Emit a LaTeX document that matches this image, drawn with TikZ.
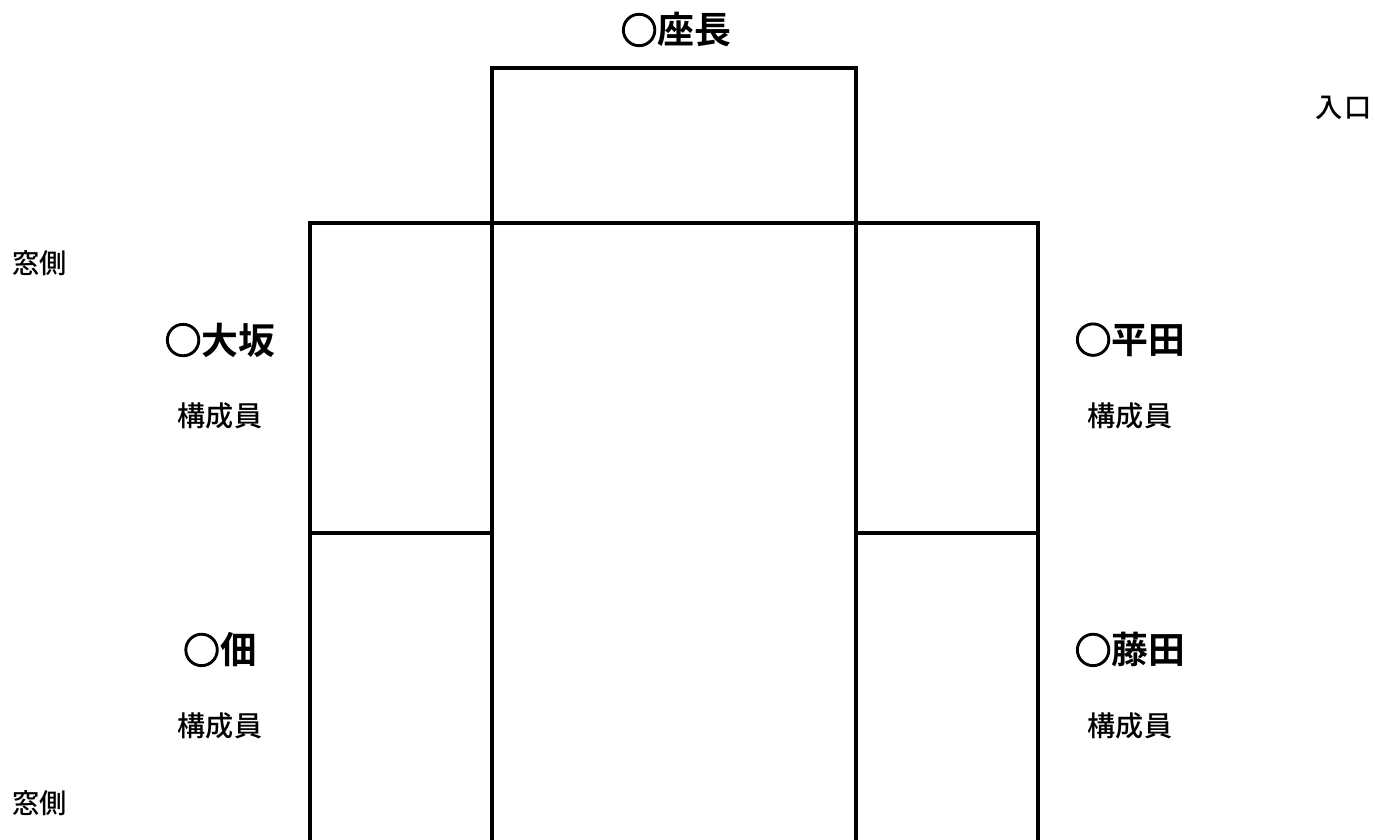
\documentclass[tikz,border=0pt]{standalone}
\usepackage{fontspec}
\usepackage{tikz}
\newfontfamily\cjk{Noto Sans CJK JP Medium}[BoldFont={Noto Sans CJK JP Bold}]
\newfontfamily\circfont{Noto Sans CJK JP Bold}[FakeBold=3]

\begin{document}
\begin{tikzpicture}[
			tbl/.style={draw, line width=2pt},
			seatname/.style={font=\cjk\bfseries\fontsize{21}{25}\selectfont, inner sep=0pt},
			role/.style={font=\cjk\fontsize{16}{19}\selectfont, inner sep=0pt},
			roomlbl/.style={font=\cjk\fontsize{15.5}{18}\selectfont, inner sep=0pt}
			]
			\useasboundingbox (0,0) rectangle (27.5,16.8);
			% tables
			\draw[tbl] (9.84,12.34) rectangle (17.12,15.44);
			\draw[tbl] (9.84,-0.2) rectangle (17.12,12.34);
			\draw[tbl] (6.2,6.14) rectangle (9.84,12.34);
			\draw[tbl] (6.2,-0.2) rectangle (9.84,6.14);
			\draw[tbl] (17.12,6.14) rectangle (20.76,12.34);
			\draw[tbl] (17.12,-0.2) rectangle (20.76,6.14);
			% seats
			\node[seatname] (chair) at (13.52,16.2) {{\circfont ○}座長};
			\node[seatname] (osaka) at (4.4,10.0) {{\circfont ○}大坂};
			\node[role] (osakar) at (4.4,8.48) {構成員};
			\node[seatname] (tsukuda) at (4.4,3.8) {{\circfont ○}佃};
			\node[role] (tsukudar) at (4.4,2.28) {構成員};
			\node[seatname] (hirata) at (22.6,10.0) {{\circfont ○}平田};
			\node[role] (hiratar) at (22.6,8.48) {構成員};
			\node[seatname] (fujita) at (22.6,3.8) {{\circfont ○}藤田};
			\node[role] (fujitar) at (22.6,2.28) {構成員};
			% room
			\node[roomlbl, anchor=west] (win1) at (0.24,11.54) {窓側};
			\node[roomlbl, anchor=west] (win2) at (0.24,0.74) {窓側};
			\node[roomlbl, anchor=east] (door) at (27.44,14.64) {入\hspace{0.08em}口};
		\end{tikzpicture}
\end{document}
